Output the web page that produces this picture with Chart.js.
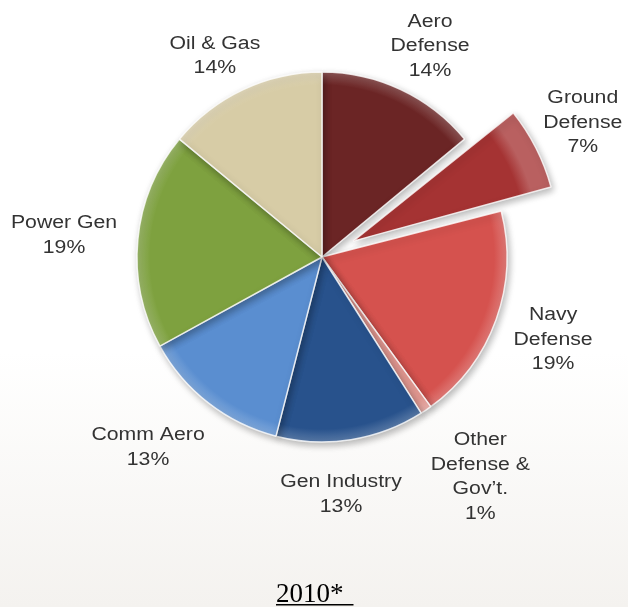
<!DOCTYPE html>
<html>
<head>
<meta charset="utf-8">
<title>Segments 2010</title>
<script src="https://cdn.jsdelivr.net/npm/chart.js@4.4.1/dist/chart.umd.min.js"></script>
<style>
  html, body { margin: 0; padding: 0; }
  body {
    width: 628px; height: 607px; overflow: hidden;
    background: linear-gradient(to bottom, #ffffff 0%, #ffffff 58%, #f4f2ef 100%);
  }
  #wrap { position: relative; width: 628px; height: 607px; }
</style>
</head>
<body>
<div id="wrap"><canvas id="myChart"></canvas></div>
<script>
// revenue split by market segment
const segments = ["Aero Defense", "Ground Defense", "Navy Defense", "Other Defense & Gov’t.",
                  "Gen Industry", "Comm Aero", "Power Gen", "Oil & Gas"];
const labelLines = [["Aero", "Defense"], ["Ground", "Defense"], ["Navy", "Defense"],
                    ["Other", "Defense &", "Gov’t."], ["Gen Industry"], ["Comm Aero"],
                    ["Power Gen"], ["Oil & Gas"]];
const shares = [14, 7, 19, 1, 13, 13, 19, 14];
const yearLabel = "2010*";

const sliceColors = ["#6b2525", "#a53333", "#d5524e", "#e59a93",
                     "#28528c", "#5a8ed0", "#7ea13f", "#d7cca6"];
const explode = [0, 140, 0, 0, 0, 0, 0, 0];

// where each label sits: distance from pie centre and a small angle nudge (deg)
const labelDistance = [238, 294, 245, 270, 237, 257, 259, 229];
const labelNudge = [1.8, -0.5, -0.4, -1.7, 4.4, 4.8, -0.3, -2.7];

const pieRadius = 185;
const lineGap = 24.5;

function lighten(hex, amt) {
  const n = parseInt(hex.slice(1), 16);
  const r = (n >> 16) & 255, g = (n >> 8) & 255, b = n & 255;
  const mix = v => Math.round(v + (255 - v) * amt);
  return `rgb(${mix(r)},${mix(g)},${mix(b)})`;
}

function sliceFill(c) {
  const base = sliceColors[c.dataIndex];
  const area = c.chart.chartArea;
  if (!area) return base;
  const x = (area.left + area.right) / 2;
  const y = (area.top + area.bottom) / 2;
  const g = c.chart.ctx.createRadialGradient(x, y, 0, x, y, pieRadius);
  g.addColorStop(0, base);
  g.addColorStop(0.93, base);
  g.addColorStop(1, lighten(base, 0.22));
  return g;
}

const pieShadow = {
  id: 'pieShadow',
  beforeDatasetDraw(chart) {
    const ctx = chart.ctx;
    ctx.save();
    ctx.shadowColor = 'rgba(0,0,0,0.28)';
    ctx.shadowBlur = 7;
    ctx.shadowOffsetX = 2;
    ctx.shadowOffsetY = 3;
  },
  afterDatasetDraw(chart) {
    chart.ctx.restore();
  }
};

const sliceLabels = {
  id: 'sliceLabels',
  afterDatasetsDraw(chart) {
    const ctx = chart.ctx;
    const arcs = chart.getDatasetMeta(0).data;
    ctx.save();
    ctx.fillStyle = '#333333';
    ctx.font = '18px "Liberation Sans", Arial, sans-serif';
    ctx.textAlign = 'center';
    ctx.textBaseline = 'alphabetic';
    arcs.forEach((arc, i) => {
      const mid = (arc.startAngle + arc.endAngle) / 2 + labelNudge[i] * Math.PI / 180;
      const cx = arc.x + Math.cos(mid) * labelDistance[i];
      const cy = arc.y + Math.sin(mid) * labelDistance[i];
      const lines = labelLines[i].concat(shares[i] + '%');
      const blockH = 13 + (lines.length - 1) * lineGap;
      let y = cy - blockH / 2 + 13;
      lines.forEach(t => {
        ctx.save();
        ctx.translate(cx, y);
        ctx.scale(1.18, 1);
        ctx.fillText(t, 0, 0);
        ctx.restore();
        y += lineGap;
      });
    });

    // year caption, underlined
    ctx.fillStyle = '#000000';
    ctx.font = '27px "Liberation Serif", "Times New Roman", serif';
    ctx.textAlign = 'left';
    ctx.fillText(yearLabel, 276, 602);
    const w = ctx.measureText(yearLabel).width;
    ctx.fillRect(276, 604, w + 10, 1.5);
    ctx.restore();
  }
};

new Chart('myChart', {
  type: 'pie',
  data: {
    labels: segments,
    datasets: [{
      data: shares,
      backgroundColor: sliceFill,
      borderColor: 'rgba(255,255,255,0.8)',
      borderWidth: 1.5,
      offset: explode,
      hoverOffset: 0
    }]
  },
  options: {
    responsive: true,
    maintainAspectRatio: false,
    animation: false,
    events: [],
    radius: pieRadius,
    layout: { padding: { left: 16, right: 0, top: 0, bottom: 93 } },
    plugins: {
      legend: { display: false },
      title: { display: false },
      tooltip: { enabled: false }
    }
  },
  plugins: [pieShadow, sliceLabels]
});
</script>
</body>
</html>
